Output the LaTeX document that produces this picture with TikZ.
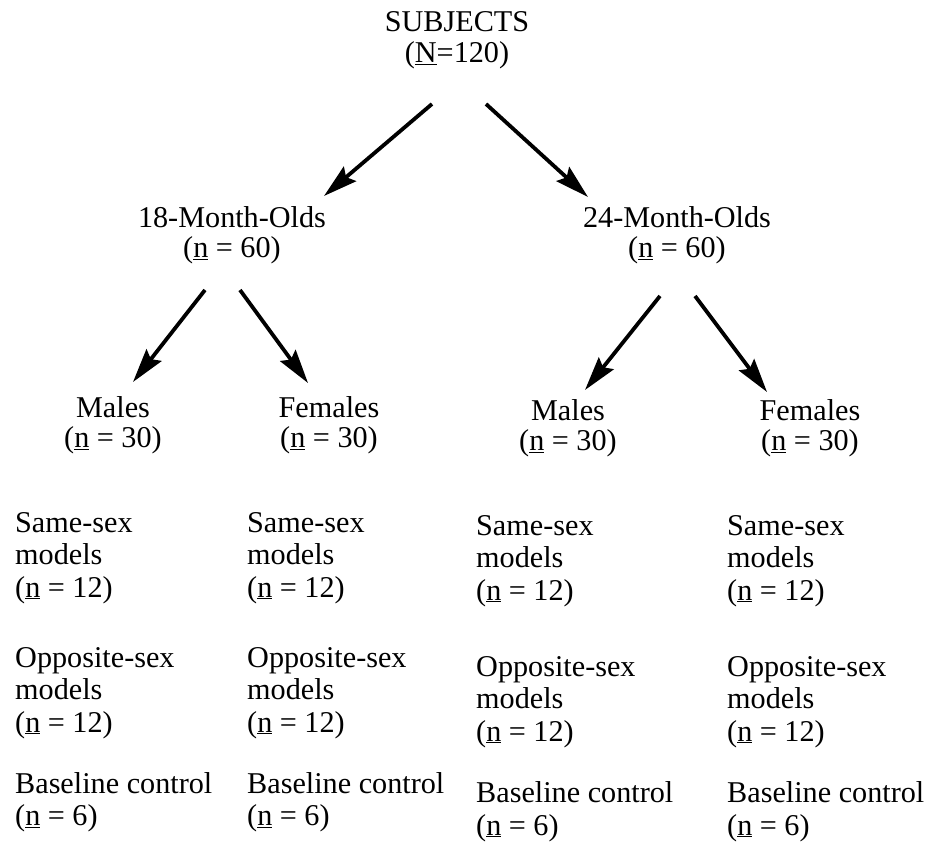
\documentclass[tikz,border=0pt]{standalone}
\usepackage{fontspec}
\setmainfont{Liberation Serif}
\usetikzlibrary{arrows.meta}
\begin{document}
\begin{tikzpicture}[x=1pt,y=-1pt,
  lbl/.style={inner sep=0pt, font=\fontsize{30.2}{30.5}\selectfont},
  ctr/.style={lbl, align=center, anchor=base},
  lft/.style={lbl, align=left, anchor=base west, font=\fontsize{30.2}{32.5}\selectfont},
  arr/.style={line width=3.8pt, -{Stealth[length=34pt,width=19pt,inset=5pt]}}]
\useasboundingbox[fill=white] (0,0) rectangle (932,848);

% level 0 and 1 (anchor = baseline of last line)
\node[ctr] (subj) at (457,62.5) {SUBJECTS\\(\underline{N}=120)};
\node[ctr] (m18) at (232,257.5) {18-Month-Olds\\(\underline{n} = 60)};
\node[ctr] (m24) at (677,257.5) {24-Month-Olds\\(\underline{n} = 60)};

% level 2
\node[ctr] (ma1) at (113,447.5) {Males\\(\underline{n} = 30)};
\node[ctr] (fe1) at (329,447.5) {Females\\(\underline{n} = 30)};
\node[ctr] (ma2) at (568,450.5) {Males\\(\underline{n} = 30)};
\node[ctr] (fe2) at (810,450.5) {Females\\(\underline{n} = 30)};

% groups
\node[lft] (ss1) at (15,597) {Same-sex\\models\\(\underline{n} = 12)};
\node[lft] (ss2) at (247,597) {Same-sex\\models\\(\underline{n} = 12)};
\node[lft] (ss3) at (476,600) {Same-sex\\models\\(\underline{n} = 12)};
\node[lft] (ss4) at (727,600) {Same-sex\\models\\(\underline{n} = 12)};

\node[lft] (os1) at (15,732) {Opposite-sex\\models\\(\underline{n} = 12)};
\node[lft] (os2) at (247,732) {Opposite-sex\\models\\(\underline{n} = 12)};
\node[lft] (os3) at (476,741) {Opposite-sex\\models\\(\underline{n} = 12)};
\node[lft] (os4) at (727,741) {Opposite-sex\\models\\(\underline{n} = 12)};

\node[lft] (bc1) at (15,825.5) {Baseline control\\(\underline{n} = 6)};
\node[lft] (bc2) at (247,825.5) {Baseline control\\(\underline{n} = 6)};
\node[lft] (bc3) at (476,835) {Baseline control\\(\underline{n} = 6)};
\node[lft] (bc4) at (727,835) {Baseline control\\(\underline{n} = 6)};

% arrow end points
\coordinate (a1s) at (432,104); \coordinate (a1e) at (324,196);
\coordinate (a2s) at (486,104); \coordinate (a2e) at (588,197);
\coordinate (b1s) at (205,290); \coordinate (b1e) at (133,382);
\coordinate (b2s) at (240,290); \coordinate (b2e) at (308,383);
\coordinate (c1s) at (660,296); \coordinate (c1e) at (585,390);
\coordinate (c2s) at (695,296); \coordinate (c2e) at (767,392);

\draw[arr] (a1s) -- (a1e);
\draw[arr] (a2s) -- (a2e);
\draw[arr] (b1s) -- (b1e);
\draw[arr] (b2s) -- (b2e);
\draw[arr] (c1s) -- (c1e);
\draw[arr] (c2s) -- (c2e);
\end{tikzpicture}
\end{document}
